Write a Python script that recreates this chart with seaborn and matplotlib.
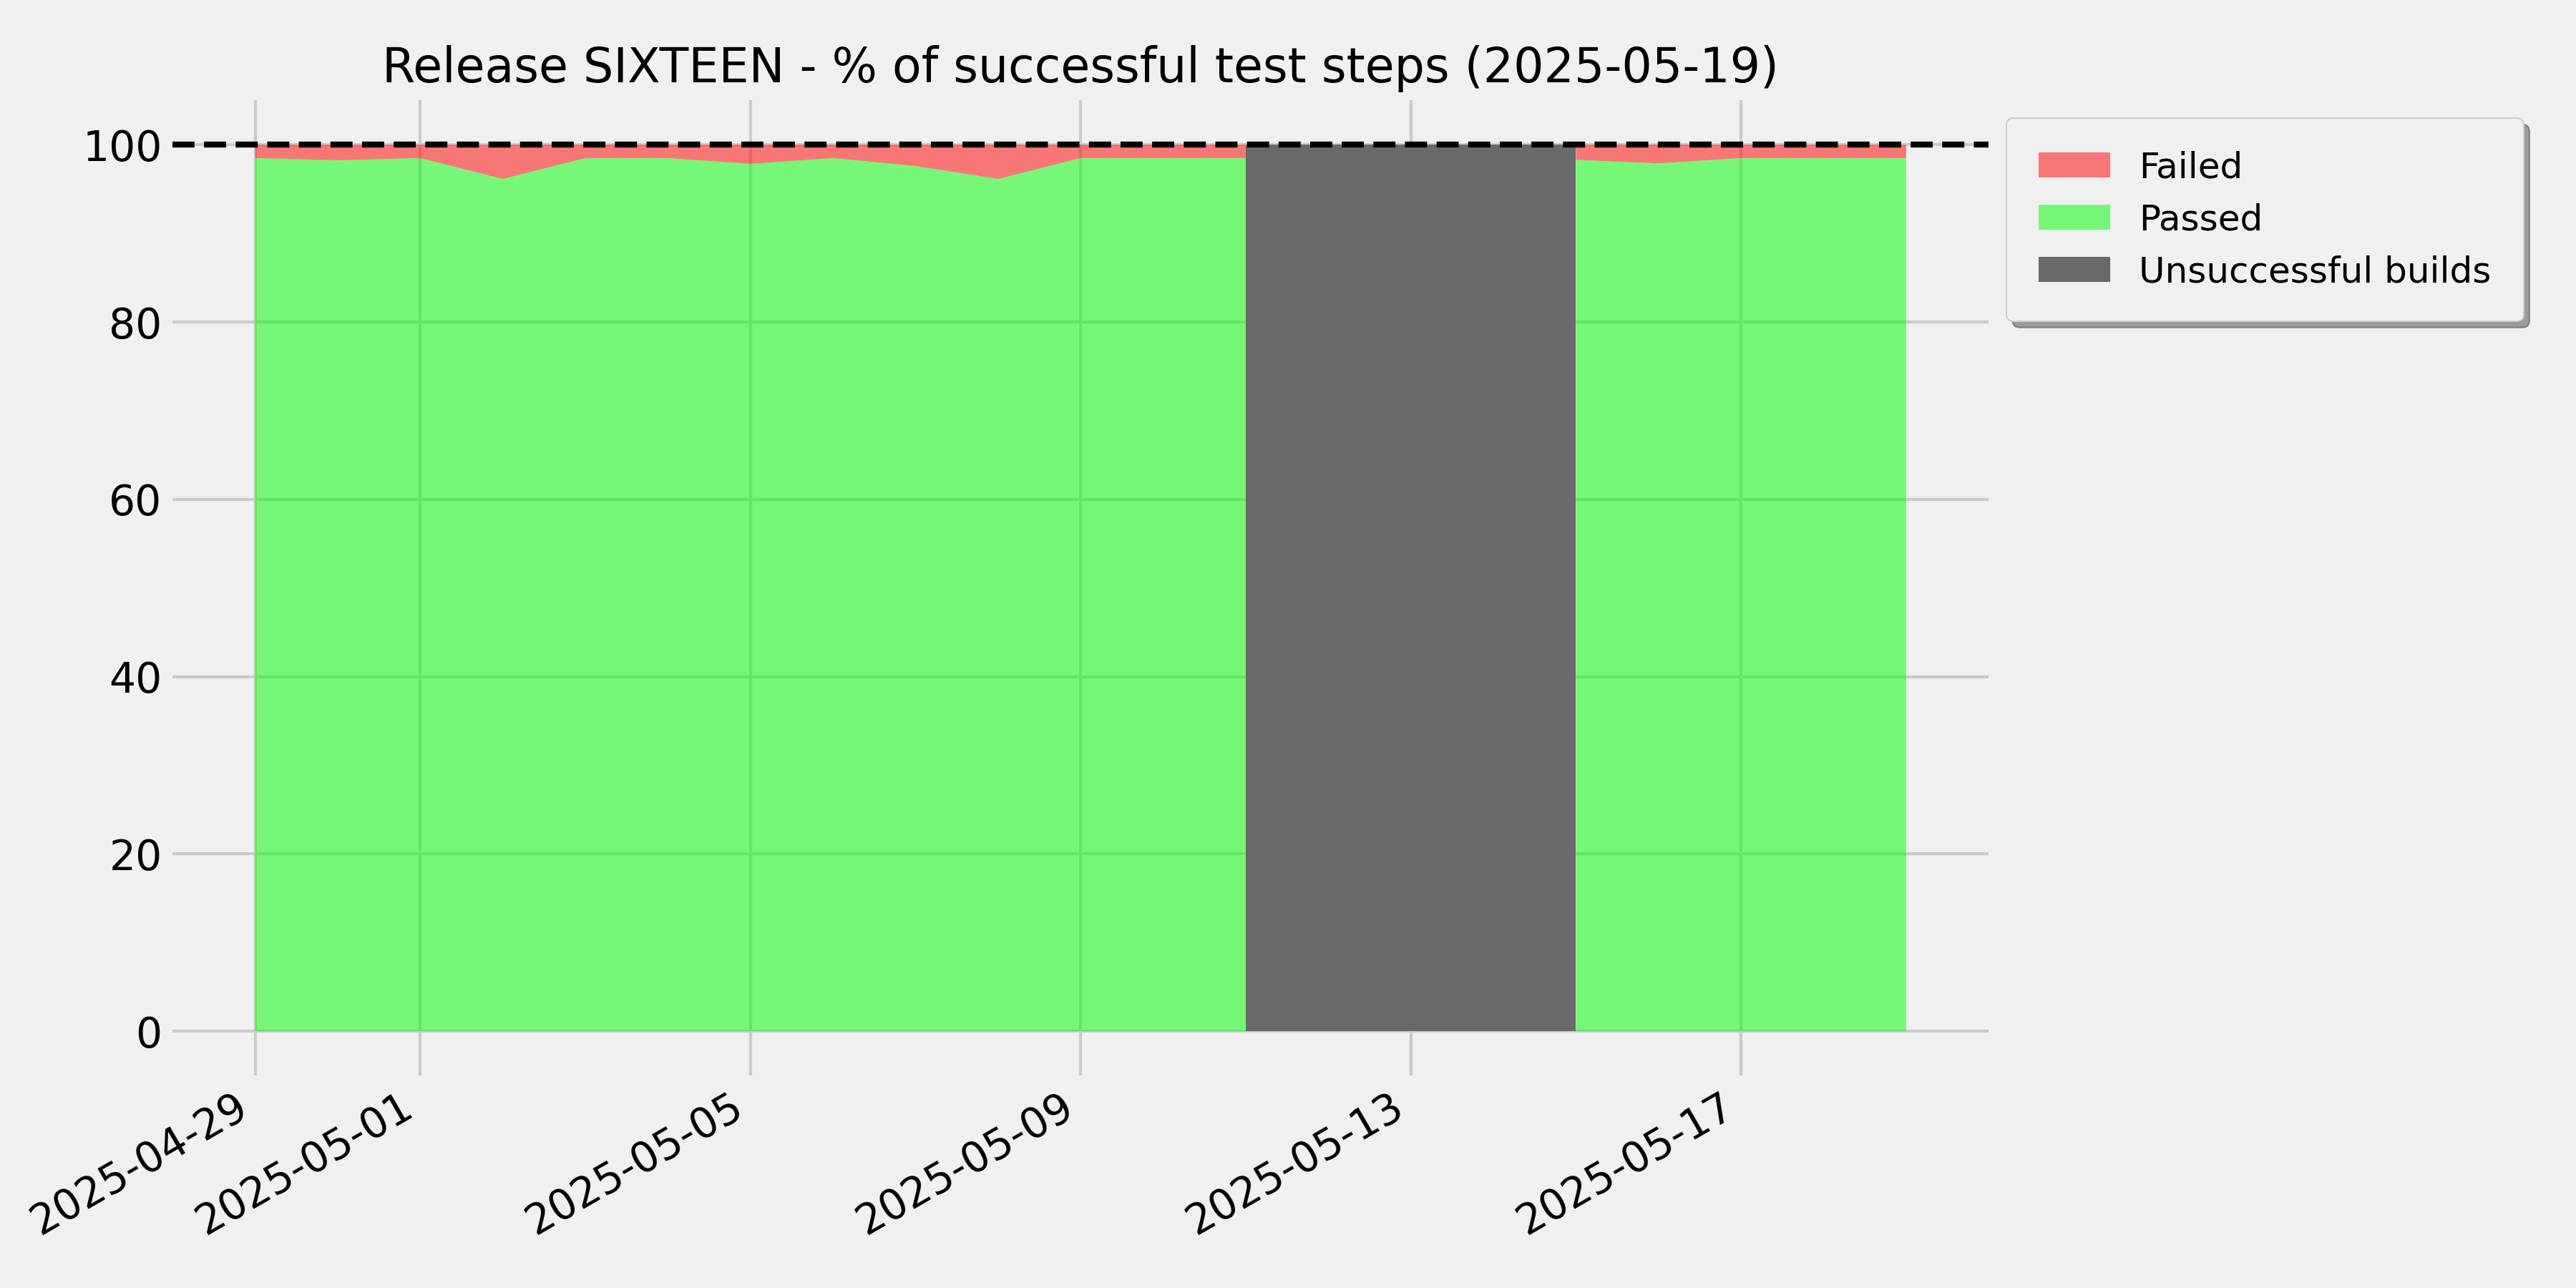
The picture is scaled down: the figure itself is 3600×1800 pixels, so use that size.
import numpy as np
import pandas as pd
import matplotlib
matplotlib.use('Agg')
import matplotlib.pyplot as plt
import seaborn as sns

# Данные: % успешных шагов тестов по дням
dates = pd.date_range('2025-04-29', '2025-05-19', freq='D')
passed = [98.5, 98.25, 98.5, 96.15, 98.5, 98.5, 97.85, 98.5, 97.6, 96.15, 98.5,
          98.5, 98.5, np.nan, np.nan, np.nan, 98.3, 97.9, 98.5, 98.5, 98.5]
failed = [1.5, 1.75, 1.5, 3.85, 1.5, 1.5, 2.15, 1.5, 2.4, 3.85, 1.5,
          1.5, 1.5, np.nan, np.nan, np.nan, 1.7, 2.1, 1.5, 1.5, 1.5]
unsuccessful = [False] * 12 + [True] * 5 + [False] * 4
release = 'SIXTEEN'
report_date = '2025-05-19'

plt.style.use('fivethirtyeight')

fig, ax = plt.subplots(figsize=(12, 6), dpi=300)
polys = ax.stackplot(dates, passed, failed, colors=['lime', 'red'], alpha=0.5, linewidth=1)
gray = ax.fill_between(dates, 0, 100, where=unsuccessful, color='dimgray', linewidth=0)
ax.axhline(100, color='black', linestyle='--', linewidth=2)
ax.set_ylim(-5, 105)

ax.set_title(f'Release {release} - % of successful test steps ({report_date})', fontsize=16)
ax.legend([polys[1], polys[0], gray], ['Failed', 'Passed', 'Unsuccessful builds'],
          loc='upper left', bbox_to_anchor=(1.0, 1.0), shadow=True, fontsize=12,
          borderpad=0.9)
sns.despine(left=True, bottom=True)
fig.autofmt_xdate()
fig.subplots_adjust(left=0.067, right=0.772, top=0.922, bottom=0.165)
fig.savefig('out.png', dpi=300)
